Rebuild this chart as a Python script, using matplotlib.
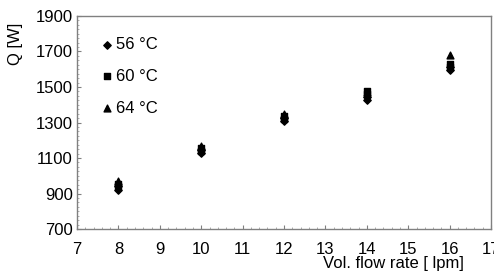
import matplotlib
matplotlib.use("Agg")
import matplotlib.pyplot as plt
from matplotlib.ticker import MultipleLocator

plt.rcParams['font.family'] = ['Liberation Sans', 'DejaVu Sans']

flow_56 = [8, 8, 10, 10, 12, 12, 14, 14, 16, 16]
q_56 = [922, 940, 1128, 1145, 1310, 1325, 1425, 1442, 1598, 1610]
flow_60 = [8, 8, 10, 10, 12, 12, 14, 14, 16, 16]
q_60 = [945, 955, 1140, 1155, 1318, 1335, 1462, 1478, 1612, 1630]
flow_64 = [8, 10, 12, 14, 16]
q_64 = [968, 1168, 1348, 1470, 1682]

legend_labels = ['56 °C', '60 °C', '64 °C']
x_ticks = list(range(7, 18))
y_ticks = [700, 900, 1100, 1300, 1500, 1700, 1900]

fig = plt.figure(figsize=(4.94, 2.75), dpi=100)
ax = fig.add_axes([0.156, 0.167, 0.838, 0.775])

ax.scatter(flow_56, q_56, marker='D', s=14, color='black', label=legend_labels[0], zorder=3)
ax.scatter(flow_60, q_60, marker='s', s=22, color='black', label=legend_labels[1], zorder=3)
ax.scatter(flow_64, q_64, marker='^', s=24, color='black', label=legend_labels[2], zorder=3)

ax.set_xlim(7, 17)
ax.set_ylim(700, 1900)
ax.set_xticks(x_ticks)
ax.set_yticks(y_ticks)
ax.xaxis.set_minor_locator(MultipleLocator(0.2))
ax.yaxis.set_minor_locator(MultipleLocator(25))
for s in ax.spines.values():
    s.set_color('#808080')
    s.set_linewidth(1.0)
ax.tick_params(which='major', direction='in', length=3, color='#808080', labelsize=12, pad=3)
ax.tick_params(which='minor', direction='in', length=1.5, color='#a0a0a0')
ax.tick_params(axis='x', pad=9)
ax.tick_params(top=False, right=False, which='both')

ax.set_ylabel('Q [W]', fontsize=12)
ax.yaxis.set_label_coords(-0.13, 0.87)
ax.set_xlabel('Vol. flow rate [ lpm]', fontsize=12, ha='right')
ax.xaxis.set_label_coords(0.935, -0.125)

leg = ax.legend(loc='upper left', bbox_to_anchor=(0.025, 0.955), frameon=False,
                fontsize=12, handletextpad=0.0, handlelength=1.0,
                labelspacing=1.0, borderaxespad=0.3)

fig.savefig('out.png', dpi=100)
